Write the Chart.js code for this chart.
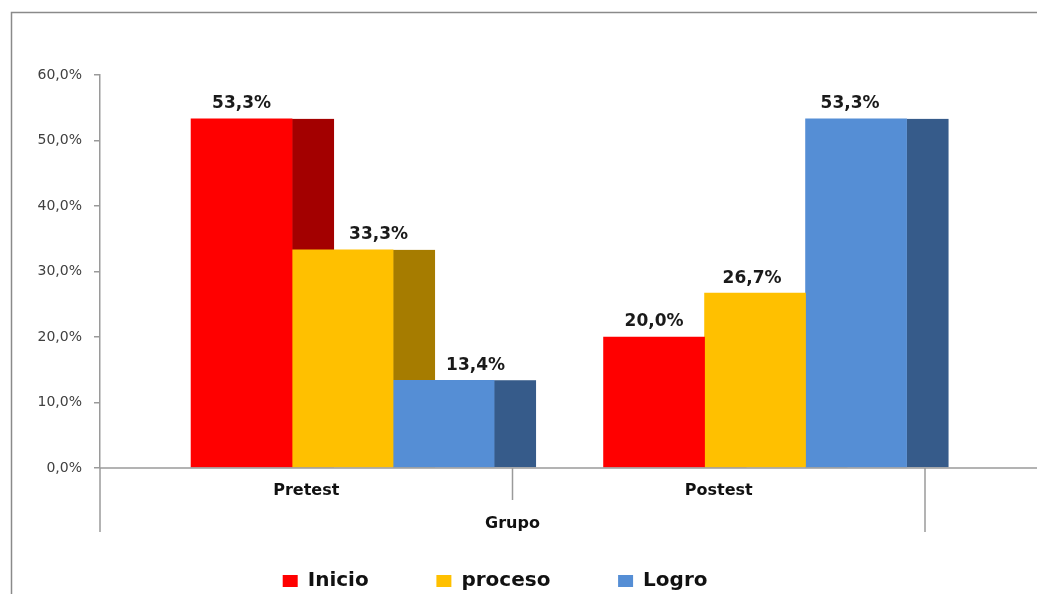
<!DOCTYPE html>
<html>
<head>
<meta charset="utf-8">
<script src="https://cdn.jsdelivr.net/npm/chart.js@4"></script>
<style>
  html, body { margin: 0; padding: 0; background: #fff; }
  #wrap { width: 1037px; height: 594px; position: relative; }
</style>
</head>
<body>
<div id="wrap"><canvas id="chart"></canvas></div>
<script>
// --- data ---
const groups = ["Pretest", "Postest"];
const groupTitle = "Grupo";
const seriesNames = ["Inicio", "proceso", "Logro"];
const inicio = [53.3, 20.0];
const proceso = [33.3, 26.7];
const logro = [13.4, 53.3];
const yTicks = [0, 10, 20, 30, 40, 50, 60];

// --- look ---
const frontColors = ["#FF0000", "#FFC000", "#558ED5"];
const sideColors = ["#A30000", "#A67C00", "#365B8A"];
const axisColor = "#9a9a9a";
const depthOffset = 0.088;   // 3d look: bars sit a bit right of their category

const pct = (v) => Number(v).toFixed(1).replace(".", ",") + "%";

Chart.defaults.font.family = "'DejaVu Sans', Verdana, sans-serif";

// dark right-hand faces, drawn before the fronts so later bars cover them
const sideFaces = {
  id: "sideFaces",
  beforeDatasetsDraw(chart, args, opts) {
    const ctx = chart.ctx;
    ctx.save();
    chart.data.datasets.forEach((ds, i) => {
      const meta = chart.getDatasetMeta(i);
      if (meta.hidden) return;
      ctx.fillStyle = opts.colors[i];
      meta.data.forEach((bar) => {
        ctx.fillRect(bar.x + bar.width / 2, bar.y, opts.depth, bar.base - bar.y);
      });
    });
    ctx.restore();
  }
};

// value labels above the bars
const valueLabels = {
  id: "valueLabels",
  afterDatasetsDraw(chart, args, opts) {
    const ctx = chart.ctx;
    ctx.save();
    ctx.font = "bold 17px 'DejaVu Sans', Verdana, sans-serif";
    ctx.fillStyle = "#1a1a1a";
    ctx.textAlign = "center";
    ctx.textBaseline = "middle";
    chart.data.datasets.forEach((ds, i) => {
      const meta = chart.getDatasetMeta(i);
      meta.data.forEach((bar, j) => {
        const dx = (opts.shift[j] && opts.shift[j][i]) || 0;
        ctx.fillText(pct(ds.data[j].y), bar.x + dx, bar.y - opts.gap);
      });
    });
    ctx.restore();
  }
};

// long x axis line, category dividers and the outer frame
const axisLines = {
  id: "axisLines",
  afterDraw(chart, args, opts) {
    const { ctx, chartArea } = chart;
    const x = chart.scales.x;
    const n = groups.length;
    ctx.save();
    ctx.strokeStyle = axisColor;
    ctx.lineWidth = 1.5;
    ctx.beginPath();
    ctx.moveTo(chartArea.left, chartArea.bottom);
    ctx.lineTo(chart.width, chartArea.bottom);
    for (let i = 0; i <= n; i++) {
      let px;
      if (i === 0) px = x.left;
      else if (i === n) px = x.right;
      else px = (x.getPixelForValue(i - 1) + x.getPixelForValue(i)) / 2;
      const len = (i === 0 || i === n) ? opts.outerTick : opts.innerTick;
      ctx.moveTo(px, chartArea.bottom);
      ctx.lineTo(px, chartArea.bottom + len);
    }
    ctx.stroke();

    ctx.strokeStyle = "#8a8a8a";
    ctx.lineWidth = 1.5;
    ctx.beginPath();
    ctx.moveTo(opts.frame.x, chart.height);
    ctx.lineTo(opts.frame.x, opts.frame.y);
    ctx.lineTo(chart.width, opts.frame.y);
    ctx.stroke();
    ctx.restore();
  }
};

const seriesValues = [inicio, proceso, logro];

new Chart(document.getElementById("chart"), {
  type: "bar",
  data: {
    labels: groups,
    datasets: seriesNames.map((name, i) => ({
      label: name,
      data: seriesValues[i].map((v, j) => ({ x: j, y: v })),
      xAxisID: "xb",
      yAxisID: "y",
      backgroundColor: frontColors[i],
      borderWidth: 0,
      barThickness: 101
    }))
  },
  options: {
    responsive: true,
    maintainAspectRatio: false,
    animation: false,
    layout: { padding: { top: 75, left: 0, right: 112, bottom: -7 } },
    scales: {
      x: {
        type: "category",
        offset: true,
        grid: { display: false, drawTicks: false },
        border: { display: false },
        ticks: { padding: 13, color: "#111", font: { size: 16, weight: "bold" } },
        title: {
          display: true,
          text: groupTitle,
          color: "#111",
          font: { size: 16, weight: "bold" },
          padding: { top: 0, bottom: 26 }
        },
        afterFit: (s) => { s.height = 91; }
      },
      xb: {
        type: "linear",
        display: false,
        offset: false,
        min: -0.5 - depthOffset,
        max: groups.length - 0.5 - depthOffset
      },
      y: {
        min: yTicks[0],
        max: yTicks[yTicks.length - 1],
        ticks: {
          stepSize: yTicks[1] - yTicks[0],
          padding: 12,
          color: "#404040",
          font: { size: 14 },
          callback: (v) => pct(v)
        },
        grid: { drawOnChartArea: false, drawTicks: true, tickLength: 6, color: axisColor, lineWidth: 1.5 },
        border: { display: true, color: axisColor, width: 1.5 },
        afterFit: (s) => { s.width = 100; }
      }
    },
    plugins: {
      tooltip: { enabled: false },
      legend: {
        position: "bottom",
        fullSize: false,
        onClick: null,
        labels: {
          boxWidth: 15,
          boxHeight: 12,
          padding: 12,
          color: "#111",
          font: { size: 20, weight: "bold" },
          generateLabels: (chart) => {
            const items = Chart.defaults.plugins.legend.labels.generateLabels(chart);
            // trailing spaces widen the gaps between entries like the original legend
            return items.map((it, i) => ({
              ...it,
              text: it.text + " ".repeat(i < items.length - 1 ? 8 : 5)
            }));
          }
        }
      },
      sideFaces: { colors: sideColors, depth: 42 },
      valueLabels: { gap: 15, shift: [[0, 36, 32], [0, -3, -6]] },
      axisLines: { outerTick: 64, innerTick: 32, frame: { x: 11.5, y: 12.5 } }
    }
  },
  plugins: [sideFaces, valueLabels, axisLines]
});
</script>
</body>
</html>
